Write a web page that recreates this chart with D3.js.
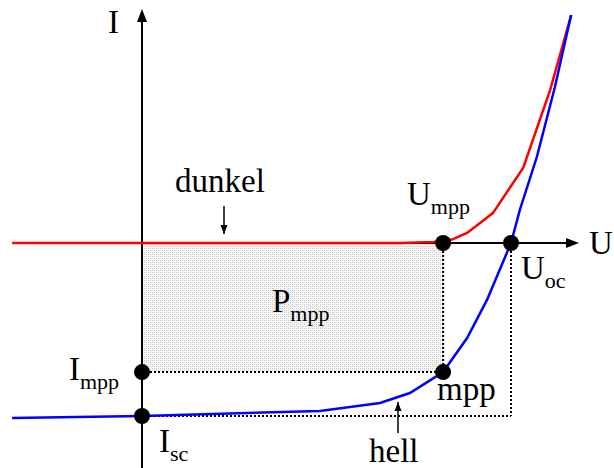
<!DOCTYPE html>
<html>
<head>
<meta charset="utf-8">
<script src="https://cdn.jsdelivr.net/npm/d3@7"></script>
<style>
  html, body { margin: 0; padding: 0; background: #fff; }
  svg { display: block; }
</style>
</head>
<body>
<svg id="chart" width="614" height="468"></svg>
<script>
// Solar cell I-U characteristic (normalised: U_oc = 1, I_sc = -1)
const darkU  = [-0.352, 0, 0.70, 0.79, 0.84, 0.881, 0.951, 1.033, 1.106, 1.163];
const darkI  = [0, 0, 0, 0.006, 0.02, 0.058, 0.173, 0.434, 0.884, 1.318];
const lightU = [-0.352, 0, 0.482, 0.645, 0.726, 0.816, 0.881, 0.935, 1.0, 1.024, 1.070, 1.119, 1.163];
const lightI = [-1.012, -1.0, -0.971, -0.925, -0.867, -0.746, -0.549, -0.329, 0, 0.191, 0.497, 0.902, 1.318];

// characteristic points
const Umpp = 0.816, Impp = -0.746, Uoc = 1.0, Isc = -1.0;

const FONT = "'Liberation Serif', 'Times New Roman', 'DejaVu Serif', serif";

const svg = d3.select("#chart");
const x = d3.scaleLinear().domain([0, 1]).range([142, 511]);
const y = d3.scaleLinear().domain([0, -1]).range([243, 416]);

// hatch pattern for the power rectangle
const defs = svg.append("defs");
const pat = defs.append("pattern").attr("id", "dots")
  .attr("width", 4).attr("height", 4).attr("patternUnits", "userSpaceOnUse");
pat.append("rect").attr("width", 4).attr("height", 4).attr("fill", "#f5f5f5");
pat.append("rect").attr("x", 0).attr("y", 0).attr("width", 1).attr("height", 1).attr("fill", "#c4c4c4");
pat.append("rect").attr("x", 2).attr("y", 2).attr("width", 1).attr("height", 1).attr("fill", "#c4c4c4");
pat.append("rect").attr("x", 2).attr("y", 0).attr("width", 1).attr("height", 1).attr("fill", "#dddddd");
pat.append("rect").attr("x", 0).attr("y", 2).attr("width", 1).attr("height", 1).attr("fill", "#dddddd");

// P_mpp rectangle
svg.append("rect")
  .attr("x", x(0)).attr("y", y(0))
  .attr("width", x(Umpp) - x(0)).attr("height", y(Impp) - y(0))
  .attr("fill", "url(#dots)");

// dotted guide lines
const dotted = [
  [[Umpp, 0], [Umpp, Impp]],
  [[0, Impp], [Umpp, Impp]],
  [[0, Isc], [Uoc, Isc]],
  [[Uoc, 0], [Uoc, Isc]]
];
svg.selectAll("line.guide").data(dotted).join("line").attr("class", "guide")
  .attr("x1", d => x(d[0][0])).attr("y1", d => y(d[0][1]))
  .attr("x2", d => x(d[1][0])).attr("y2", d => y(d[1][1]))
  .attr("stroke", "#000").attr("stroke-width", 2).attr("stroke-dasharray", "2,2");

// axes with arrowheads
svg.append("line").attr("x1", x(0)).attr("y1", 468).attr("x2", x(0)).attr("y2", 18)
  .attr("stroke", "#000").attr("stroke-width", 2);
svg.append("path").attr("d", `M${x(0)},9 L${x(0) - 5},22 L${x(0) + 5},22 Z`).attr("fill", "#000");
svg.append("line").attr("x1", x(0)).attr("y1", y(0)).attr("x2", 570).attr("y2", y(0))
  .attr("stroke", "#000").attr("stroke-width", 2);
svg.append("path").attr("d", `M579,${y(0)} L566,${y(0) - 5} L566,${y(0) + 5} Z`).attr("fill", "#000");

// curves
const line = d3.line().x(d => x(d[0])).y(d => y(d[1]));
svg.append("path").datum(darkU.map((u, i) => [u, darkI[i]]))
  .attr("d", line).attr("fill", "none").attr("stroke", "#ff0000").attr("stroke-width", 2.5);
svg.append("path").datum(lightU.map((u, i) => [u, lightI[i]]))
  .attr("d", line).attr("fill", "none").attr("stroke", "#0000ff").attr("stroke-width", 2.5);

// marked points
const pts = [[Umpp, 0], [Uoc, 0], [0, Impp], [Umpp, Impp], [0, Isc]];
svg.selectAll("circle.pt").data(pts).join("circle").attr("class", "pt")
  .attr("cx", d => x(d[0])).attr("cy", d => y(d[1])).attr("r", 8).attr("fill", "#000");

// small pointer arrows
function pointer(px, y1, y2) {
  svg.append("line").attr("x1", px).attr("y1", y1).attr("x2", px).attr("y2", y2)
    .attr("stroke", "#000").attr("stroke-width", 1.5);
  const dir = y2 > y1 ? 1 : -1;
  svg.append("path").attr("d", `M${px},${y2} L${px - 3.5},${y2 - dir * 9} L${px + 3.5},${y2 - dir * 9} Z`)
    .attr("fill", "#000");
}
pointer(224, 206, 234);
pointer(398, 433, 402);

// labels
function label(tx, ty, main, sub, size, subSize) {
  const t = svg.append("text").attr("x", tx).attr("y", ty)
    .attr("font-family", FONT).attr("font-size", size).attr("fill", "#000");
  t.append("tspan").text(main);
  if (sub) t.append("tspan").attr("font-size", subSize).attr("dy", 9).text(sub);
}
label(108, 33, "I", null, 33);
label(589, 254, "U", null, 33);
label(175, 192, "dunkel", null, 33);
label(369, 462, "hell", null, 33);
label(407, 205, "U", "mpp", 33, 22);
label(521, 279, "U", "oc", 33, 22);
label(272, 312, "P", "mpp", 33, 22);
label(69, 380, "I", "mpp", 33, 22);
label(159, 452, "I", "sc", 33, 22);
label(437, 400, "mpp", null, 33);
</script>
</body>
</html>
